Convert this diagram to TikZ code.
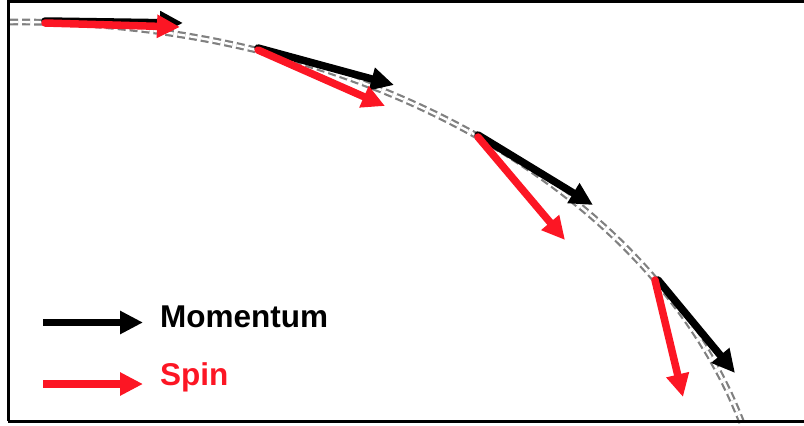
\documentclass[tikz,border=0pt]{standalone}
\usepackage{fontspec}
\setmainfont{Liberation Sans}
\usetikzlibrary{arrows.meta}
\definecolor{spinred}{RGB}{252,22,36}
\definecolor{pathgray}{RGB}{128,128,128}
\tikzset{
  vec/.style={line width=7.5pt, line cap=round, -{Triangle[length=23pt,width=22pt]}},
  mom/.style={vec, draw=black},
  spn/.style={vec, draw=spinred},
  track/.style={draw=pathgray, line width=2.2pt, double=white, double distance=2.4pt, dash pattern=on 8pt off 4pt},
  frame/.style={draw=black, line width=3pt},
  lbl/.style={font=\fontsize{31.5}{36}\selectfont\bfseries, inner sep=0pt, anchor=base west}
}
\begin{document}
\begin{tikzpicture}[x=1pt,y=-1pt]
\useasboundingbox (0,0) rectangle (804,426);
% track (elliptic arc)
\draw[track] plot[domain=-0.76:74.4, samples=120, variable=\t] ({20+750*sin(\t)}, {572-550*cos(\t)});
% points on the track
\coordinate (p1m) at (45,21);  \coordinate (q1m) at (183,23);
\coordinate (p1s) at (45,23);  \coordinate (q1s) at (180,27);
\coordinate (p2m) at (258,48); \coordinate (q2m) at (394,85);
\coordinate (p2s) at (258,50); \coordinate (q2s) at (385,106);
\coordinate (p3m) at (478,135); \coordinate (q3m) at (593,205);
\coordinate (p3s) at (478,137); \coordinate (q3s) at (565,240);
\coordinate (p4m) at (658,280); \coordinate (q4m) at (735,373);
\coordinate (p4s) at (655,280); \coordinate (q4s) at (683,397);
\draw[mom] (p1m) -- (q1m);
\draw[spn] (p1s) -- (q1s);
\draw[mom] (p2m) -- (q2m);
\draw[spn] (p2s) -- (q2s);
\draw[mom] (p3m) -- (q3m);
\draw[spn] (p3s) -- (q3s);
\draw[mom] (p4m) -- (q4m);
\draw[spn] (p4s) -- (q4s);
% legend
\coordinate (lm1) at (43,322.5); \coordinate (lm2) at (143,322.5);
\coordinate (ls1) at (43,384); \coordinate (ls2) at (143,384);
\draw[mom, line cap=butt] (lm1) -- (lm2);
\draw[spn, line cap=butt] (ls1) -- (ls2);
\node[lbl, text=black] (tm) at (160,327.5) {Momentum};
\node[lbl, text=spinred] (ts) at (160,385.5) {Spin};
% frame
\coordinate (f1) at (8,0); \coordinate (f2) at (8,421); \coordinate (f3) at (804,421);
\coordinate (f4) at (8,1.2); \coordinate (f5) at (804,1.2);
\draw[frame] (f1) -- (f2);
\draw[frame] (f2) -- (f3);
\draw[frame] (f4) -- (f5);
\end{tikzpicture}
\end{document}
